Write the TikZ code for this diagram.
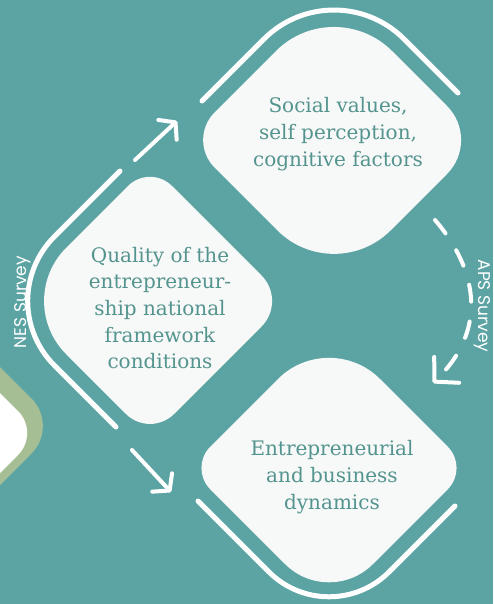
\documentclass[tikz,border=0pt]{standalone}
\usepackage{fontspec}
\setmainfont{DejaVu Serif}
\newfontfamily\labelfont{Poppins}
\usetikzlibrary{arrows.meta,calc}
\definecolor{bgteal}{RGB}{92,164,164}
\definecolor{txtteal}{RGB}{84,148,142}
\definecolor{cardwhite}{RGB}{247,248,248}
\definecolor{sage}{RGB}{166,190,148}

% rounded rotated square: #1 options, #2 prefix of corner coordinates, #3..#6 radii L,T,R,B
\newcommand\rdiam[6]{%
 \path[#1] ($(#2L)!#3!(#2T)$)
  -- ($(#2T)!#4!(#2L)$) .. controls ($(#2T)!0.448*#4!(#2L)$) and ($(#2T)!0.448*#4!(#2R)$) .. ($(#2T)!#4!(#2R)$)
  -- ($(#2R)!#5!(#2T)$) .. controls ($(#2R)!0.448*#5!(#2T)$) and ($(#2R)!0.448*#5!(#2B)$) .. ($(#2R)!#5!(#2B)$)
  -- ($(#2B)!#6!(#2R)$) .. controls ($(#2B)!0.448*#6!(#2R)$) and ($(#2B)!0.448*#6!(#2L)$) .. ($(#2B)!#6!(#2L)$)
  -- ($(#2L)!#3!(#2B)$) .. controls ($(#2L)!0.448*#3!(#2B)$) and ($(#2L)!0.448*#3!(#2T)$) .. ($(#2L)!#3!(#2T)$)
  -- cycle;}
% polyline with one rounded corner: #1 options, #2 start, #3 corner, #4 end, #5 radius
\newcommand\rarc[5]{%
 \path[#1] (#2) -- ($(#3)!#5!(#2)$) .. controls ($(#3)!0.448*#5!(#2)$) and ($(#3)!0.448*#5!(#4)$) .. ($(#3)!#5!(#4)$) -- (#4);}

\begin{document}
\begin{tikzpicture}[x=1pt,y=-1pt,
  cardfill/.style={fill=cardwhite},
  guide/.style={draw=white,line width=5pt,line cap=round},
  flow/.style={draw=white,line width=4pt,line cap=round,-{Straight Barb[length=11pt,width=27pt,round]}},
  boxtext/.style={text=txtteal,align=center,font=\fontsize{20}{26.7}\selectfont},
  survey/.style={text=white,font=\labelfont\fontsize{17}{19}\selectfont}]
\fill[bgteal] (0,0) rectangle (493,604);
\useasboundingbox (0,0) rectangle (493,604);

% green shape at bottom left
\coordinate (gA) at (-100,267); \coordinate (gT) at (59,426); \coordinate (gB) at (-100,585);
\rarc{fill=sage}{gA}{gT}{gB}{39pt}
\coordinate (wA) at (-100,293); \coordinate (wT) at (40,433); \coordinate (wB) at (-100,573);
\rarc{fill=white}{wA}{wT}{wB}{31pt}

% diamonds
\coordinate (aL) at (187,140); \coordinate (aT) at (334,-7); \coordinate (aR) at (481,140); \coordinate (aB) at (334,287);
\rdiam{cardfill}{a}{39pt}{82pt}{48pt}{80pt}
\coordinate (bL) at (13,301); \coordinate (bT) at (150,164); \coordinate (bR) at (287,301); \coordinate (bB) at (150,438);
\rdiam{cardfill}{b}{75pt}{31pt}{36pt}{34pt}
\coordinate (cL) at (189,468); \coordinate (cT) at (329,328); \coordinate (cR) at (469,468); \coordinate (cB) at (329,608);
\rdiam{cardfill}{c}{30pt}{72pt}{30pt}{62pt}

% guide arcs
\coordinate (a1s) at (202,101); \coordinate (a1c) at (334,-31); \coordinate (a1e) at (458,93);
\rarc{guide}{a1s}{a1c}{a1e}{99pt}
\coordinate (a2s) at (120,171); \coordinate (a2c) at (-10,301); \coordinate (a2e) at (116,427);
\rarc{guide}{a2s}{a2c}{a2e}{91pt}
\coordinate (a3s) at (198,501); \coordinate (a3c) at (329,632); \coordinate (a3e) at (455,506);
\rarc{guide}{a3s}{a3c}{a3e}{85pt}

% texts
\node[boxtext] (social) at (338,134) {Social values,\\self perception,\\cognitive factors};
\node[boxtext] (quality) at (160,308) {Quality of the\\entrepreneur-\\ship national\\framework\\conditions};
\node[boxtext] (dynamics) at (332,477) {Entrepreneurial\\and business\\dynamics};

% arrows
\coordinate (f1s) at (135,160); \coordinate (f1e) at (177,121);
\draw[flow] (f1s) -- (f1e);
\coordinate (f2s) at (132,450); \coordinate (f2e) at (171,492);
\draw[flow] (f2s) -- (f2e);
\coordinate (dS) at (435,220); \coordinate (dC1) at (478,270); \coordinate (dC2) at (488,330); \coordinate (dE) at (433,383);
\draw[flow, dash pattern=on 17pt off 20pt, -{Straight Barb[length=17pt,width=36pt,round]}] (dS) .. controls (dC1) and (dC2) .. (dE);

% survey labels
\node[survey, rotate=-90] (aps) at (482,306) {APS Survey};
\node[survey, rotate=90] (nes) at (23,302) {NES Survey};
\end{tikzpicture}
\end{document}
